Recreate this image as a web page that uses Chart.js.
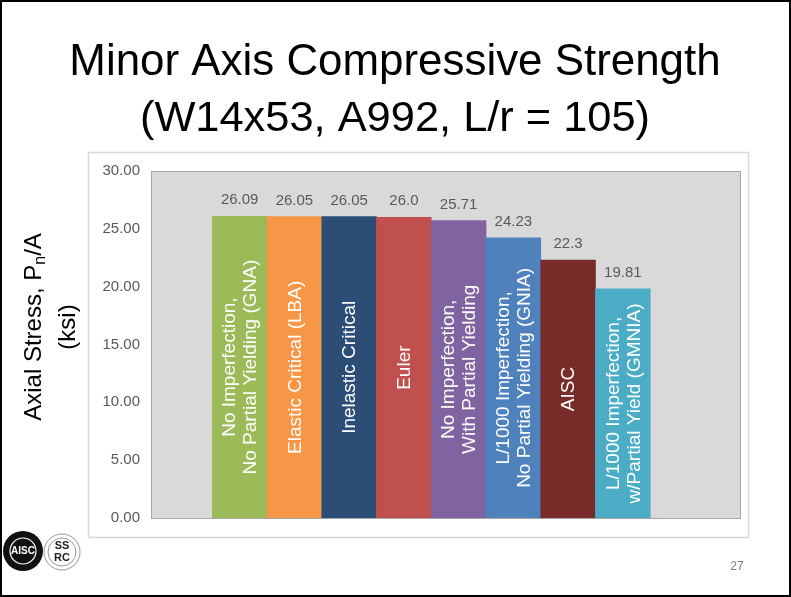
<!DOCTYPE html>
<html>
<head>
<meta charset="utf-8">
<script src="https://cdn.jsdelivr.net/npm/chart.js@4.4.1/dist/chart.umd.min.js"></script>
<style>
  body { margin: 0; background: #fff; }
  canvas { display: block; }
</style>
</head>
<body>
<canvas id="myChart" width="791" height="597"></canvas>
<script>
// data
let categories = [
  ["No Imperfection,", "No Partial Yielding (GNA)"],
  ["Elastic Critical (LBA)"],
  ["Inelastic Critical"],
  ["Euler"],
  ["No Imperfection,", "With Partial Yielding"],
  ["L/1000 Imperfection,", "No Partial Yielding (GNIA)"],
  ["AISC"],
  ["L/1000 Imperfection,", "w/Partial Yield (GMNIA)"]
];
let values = [26.09, 26.05, 26.05, 26.0, 25.71, 24.23, 22.3, 19.81];
let valueLabels = ["26.09", "26.05", "26.05", "26.0", "25.71", "24.23", "22.3", "19.81"];
let barColors = ["#9BBB59", "#F79646", "#2C4D75", "#C0504D", "#8064A2", "#4F81BD", "#772C2A", "#4BACC6"];
let yTicks = [0, 5, 10, 15, 20, 25, 30];
let titleLines = ["Minor Axis Compressive Strength", "(W14x53, A992, L/r = 105)"];

const FONT = "'Liberation Sans', Arial, sans-serif";

// slide frame, white chart box, plot background
const slideBack = {
  id: "slideBack",
  beforeDraw(chart) {
    const ctx = chart.ctx;
    const a = chart.chartArea;
    ctx.save();
    ctx.fillStyle = "#fff";
    ctx.fillRect(0, 0, chart.width, chart.height);
    // chart box
    ctx.strokeStyle = "#D9D9D9";
    ctx.lineWidth = 1.5;
    ctx.strokeRect(88.5, 152.5, 660, 385);
    // plot area
    ctx.fillStyle = "#D9D9D9";
    ctx.fillRect(a.left, a.top, a.right - a.left, a.bottom - a.top);
    ctx.strokeStyle = "#A6A6A6";
    ctx.lineWidth = 1;
    ctx.strokeRect(a.left + 0.5, a.top + 0.5, a.right - a.left, a.bottom - a.top);
    ctx.restore();
  }
};

// title, y title, labels on bars, logos, page number
const slideFront = {
  id: "slideFront",
  afterDatasetsDraw(chart) {
    const ctx = chart.ctx;
    const meta = chart.getDatasetMeta(0);
    ctx.save();
    // values on top of bars
    ctx.fillStyle = "#595959";
    ctx.font = "15px " + FONT;
    ctx.textAlign = "center";
    ctx.textBaseline = "middle";
    meta.data.forEach((bar, i) => {
      ctx.fillText(valueLabels[i], bar.x, bar.y - 16);
    });
    // category names inside bars
    ctx.fillStyle = "#fff";
    ctx.font = "19px " + FONT;
    meta.data.forEach((bar, i) => {
      let lines = categories[i];
      let cy = (bar.y + bar.base) / 2;
      ctx.save();
      ctx.translate(bar.x + 1, cy);
      ctx.rotate(-Math.PI / 2);
      lines.forEach((txt, j) => {
        ctx.fillText(txt, 0, (j - (lines.length - 1) / 2) * 21);
      });
      ctx.restore();
    });
    ctx.restore();
  },
  afterDraw(chart) {
    const ctx = chart.ctx;
    ctx.save();
    // title
    ctx.fillStyle = "#000";
    ctx.textAlign = "center";
    ctx.textBaseline = "middle";
    let widths = [652, 510];
    let ys = [63, 119];
    titleLines.forEach((t, i) => {
      ctx.font = "40px " + FONT;
      let w = ctx.measureText(t).width;
      let size = 40 * widths[i] / w;
      ctx.font = size.toFixed(1) + "px " + FONT;
      ctx.fillText(t, 395, ys[i]);
    });
    // y axis title
    ctx.save();
    ctx.translate(34, 327);
    ctx.rotate(-Math.PI / 2);
    ctx.font = "24px " + FONT;
    let p1 = "Axial Stress, P", p2 = "n", p3 = "/A";
    let w1 = ctx.measureText(p1).width;
    let w3 = ctx.measureText(p3).width;
    ctx.font = "16px " + FONT;
    let w2 = ctx.measureText(p2).width;
    let start = -(w1 + w2 + w3) / 2;
    ctx.textAlign = "left";
    ctx.font = "24px " + FONT;
    ctx.fillText(p1, start, 0);
    ctx.font = "16px " + FONT;
    ctx.fillText(p2, start + w1, 7);
    ctx.font = "24px " + FONT;
    ctx.fillText(p3, start + w1 + w2, 0);
    ctx.textAlign = "center";
    ctx.fillText("(ksi)", 0, 34);
    ctx.restore();
    // AISC logo
    ctx.fillStyle = "#111";
    ctx.beginPath();
    ctx.arc(23, 551, 20, 0, Math.PI * 2);
    ctx.fill();
    ctx.strokeStyle = "#fff";
    ctx.lineWidth = 1.2;
    ctx.beginPath();
    ctx.arc(23, 551, 13, 0, Math.PI * 2);
    ctx.stroke();
    ctx.fillStyle = "#fff";
    ctx.font = "bold 10px " + FONT;
    ctx.textAlign = "center";
    ctx.fillText("AISC", 23, 551);
    // SSRC logo
    ctx.strokeStyle = "#999";
    ctx.lineWidth = 1;
    ctx.beginPath();
    ctx.arc(62, 552, 18, 0, Math.PI * 2);
    ctx.stroke();
    ctx.beginPath();
    ctx.arc(62, 552, 14, 0, Math.PI * 2);
    ctx.stroke();
    ctx.fillStyle = "#222";
    ctx.font = "bold 11px " + FONT;
    ctx.fillText("SS", 62, 546);
    ctx.fillText("RC", 62, 558);
    // page number
    ctx.fillStyle = "#7F7F7F";
    ctx.font = "12px " + FONT;
    ctx.fillText("27", 737, 567);
    // slide border
    ctx.strokeStyle = "#000";
    ctx.lineWidth = 2;
    ctx.strokeRect(1, 1, chart.width - 2, chart.height - 2);
    ctx.restore();
  }
};

let points = values.map((v, i) => ({ x: i, y: v }));

const ctx = document.getElementById("myChart");
let myChart = new Chart(ctx, {
  type: "bar",
  data: {
    datasets: [{
      data: points,
      backgroundColor: barColors,
      borderWidth: 0,
      barThickness: "flex",
      barPercentage: 1,
      categoryPercentage: 1
    }]
  },
  options: {
    responsive: false,
    animation: false,
    devicePixelRatio: 1,
    layout: { padding: { left: 89, top: 171, right: 51, bottom: 79 } },
    plugins: { legend: { display: false }, tooltip: { enabled: false }, title: { display: false } },
    scales: {
      x: {
        type: "linear",
        display: false,
        offset: false,
        min: -1.62,
        max: 9.14
      },
      y: {
        min: 0,
        max: 30,
        afterBuildTicks(scale) {
          scale.ticks = yTicks.map(v => ({ value: v }));
        },
        afterFit(scale) { scale.width = 62; },
        grid: { display: false, drawTicks: false },
        border: { display: false },
        ticks: {
          color: "#595959",
          font: { size: 15, family: FONT },
          padding: 11,
          callback: v => v.toFixed(2)
        }
      }
    }
  },
  plugins: [slideBack, slideFront]
});
</script>
</body>
</html>
